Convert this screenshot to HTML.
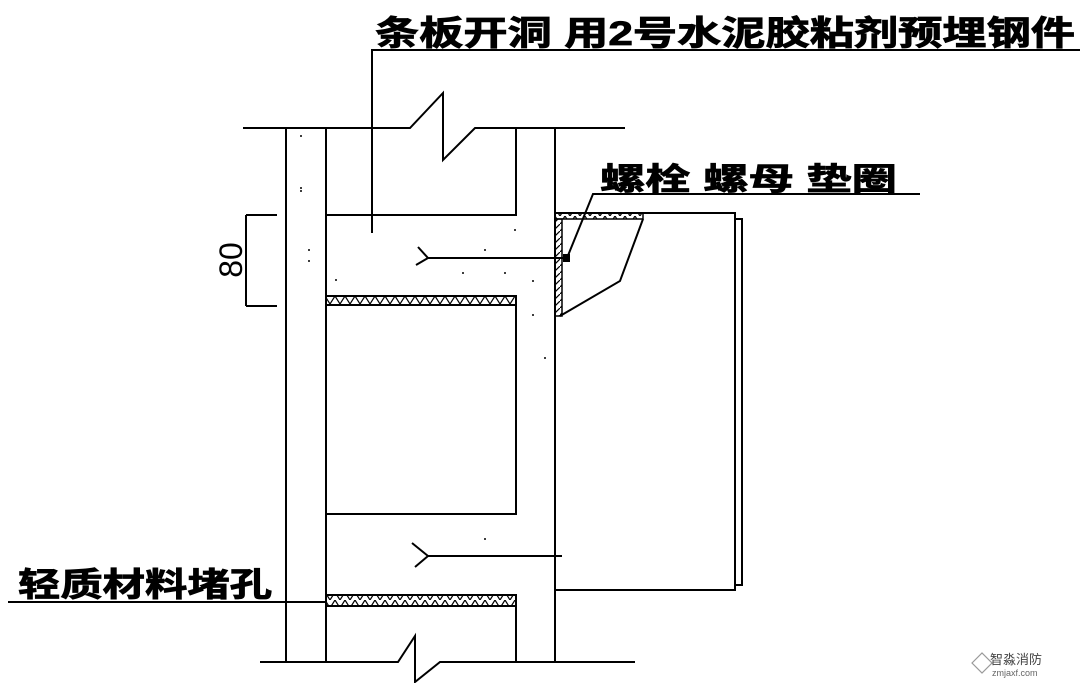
<!DOCTYPE html>
<html><head><meta charset="utf-8"><style>
html,body{margin:0;padding:0;background:#fff;}
svg{display:block;}
text{font-family:"Liberation Sans","Noto Sans CJK SC",sans-serif;font-weight:bold;fill:#000;}
</style></head><body>
<svg width="1080" height="683" viewBox="0 0 1080 683" xmlns="http://www.w3.org/2000/svg">
<defs>
<pattern id="hz" width="10" height="8" patternUnits="userSpaceOnUse">
<path d="M0,8 L5,0 L10,8" fill="none" stroke="#000" stroke-width="1.2"/>
</pattern>
<pattern id="hd" width="7" height="7" patternUnits="userSpaceOnUse">
<path d="M0,7 L7,0" fill="none" stroke="#000" stroke-width="1.2"/>
</pattern>
</defs>
<g stroke="#000" stroke-width="2" fill="none">
<polyline points="243,128 410,128 443,93 443,160 475,128 625,128"/>
<polyline points="260,662 398,662 415,636 415,682 440,662 635,662"/>
<line x1="286" y1="128" x2="286" y2="663"/>
<line x1="326" y1="128" x2="326" y2="663"/>
<line x1="555" y1="128" x2="555" y2="662"/>
<polyline points="516,128 516,215 326,215"/>
<polyline points="326,514 516,514 516,296"/>
<line x1="516" y1="595" x2="516" y2="662"/>
<polyline points="372,233 372,50 1080,50"/>
<polyline points="567,258 593,194 920,194"/>
<line x1="8" y1="602" x2="326" y2="602"/>
<rect x="555" y="213" width="180" height="377"/>
<polyline points="735,219 742,219 742,585 735,585"/>
<polyline points="643,219 620,281 560,316"/>
<line x1="428" y1="258" x2="567" y2="258"/>
<polyline points="418,247 428,258 416,265"/>
<line x1="428" y1="556" x2="562" y2="556"/>
<polyline points="412,543 428,556 415,567"/>
<line x1="246" y1="215" x2="246" y2="306"/>
<line x1="246" y1="215" x2="277" y2="215"/>
<line x1="246" y1="306" x2="277" y2="306"/>
</g>
<rect x="326" y="296" width="190" height="9" fill="url(#hz)" stroke="#000" stroke-width="2"/>
<rect x="326" y="595" width="190" height="11" fill="url(#hz)" stroke="#000" stroke-width="2"/>
<rect x="555" y="213" width="88" height="6" fill="url(#hz)" stroke="#000" stroke-width="1.5"/>
<rect x="555" y="219" width="7" height="97" fill="url(#hd)" stroke="#000" stroke-width="1.5"/>
<rect x="563" y="254" width="7" height="8" fill="#000"/>
<g fill="#000">
<circle cx="301" cy="136" r="1"/><circle cx="301" cy="188" r="1"/><circle cx="301" cy="191" r="1"/>
<circle cx="309" cy="250" r="1"/><circle cx="309" cy="261" r="1"/><circle cx="336" cy="280" r="1"/>
<circle cx="515" cy="230" r="1"/><circle cx="485" cy="250" r="1"/><circle cx="463" cy="273" r="1"/>
<circle cx="505" cy="273" r="1"/><circle cx="533" cy="281" r="1"/><circle cx="533" cy="315" r="1"/>
<circle cx="545" cy="358" r="1"/><circle cx="485" cy="539" r="1"/>
</g>
<text x="375" y="45" font-size="34" textLength="700" lengthAdjust="spacingAndGlyphs" stroke="#000" stroke-width="0.8">条板开洞 用2号水泥胶粘剂预埋钢件</text>
<text x="600" y="190" font-size="31" textLength="297" lengthAdjust="spacingAndGlyphs" stroke="#000" stroke-width="0.8">螺栓 螺母 垫圈</text>
<text x="18" y="596" font-size="33" textLength="254" lengthAdjust="spacingAndGlyphs" stroke="#000" stroke-width="0.8">轻质材料堵孔</text>
<text transform="translate(242,260) rotate(-90)" font-size="32" text-anchor="middle" style="font-weight:normal">80</text>
<g stroke="#999" stroke-width="1.2" fill="none">
<polygon points="972,663 982,653 992,663 982,673"/>
</g>
<text x="990" y="664" font-size="13" style="font-weight:normal;fill:#444">智淼消防</text>
<text x="992" y="676" font-size="9" style="font-weight:normal;fill:#666">zmjaxf.com</text>
</svg>
</body></html>
